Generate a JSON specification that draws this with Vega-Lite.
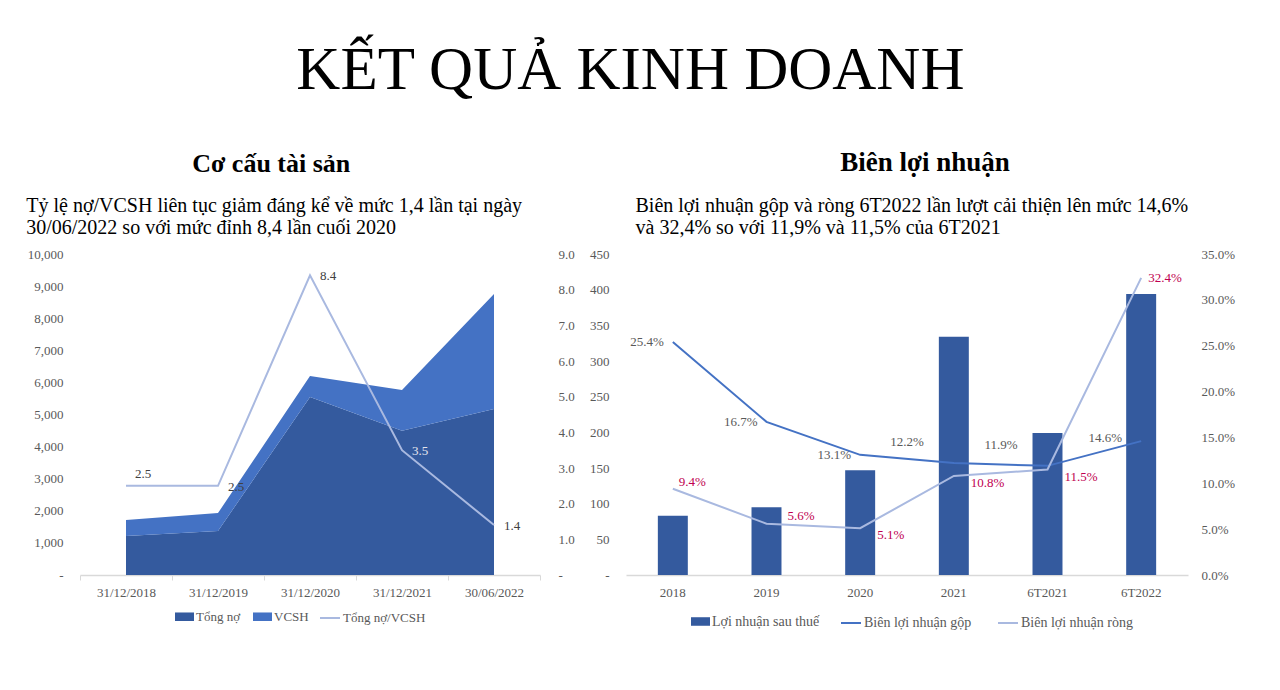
{
  "$schema": "https://vega.github.io/schema/vega-lite/v6.json",
  "background": "white",
  "padding": {"left": 26, "top": 40, "right": 10, "bottom": 10},
  "datasets": {
    "assets": [
      {"date": "31/12/2018", "series": "Tổng nợ", "value": 1215},
      {"date": "31/12/2018", "series": "VCSH", "value": 500},
      {"date": "31/12/2019", "series": "Tổng nợ", "value": 1370},
      {"date": "31/12/2019", "series": "VCSH", "value": 560},
      {"date": "31/12/2020", "series": "Tổng nợ", "value": 5545},
      {"date": "31/12/2020", "series": "VCSH", "value": 655},
      {"date": "31/12/2021", "series": "Tổng nợ", "value": 4490},
      {"date": "31/12/2021", "series": "VCSH", "value": 1275},
      {"date": "30/06/2022", "series": "Tổng nợ", "value": 5170},
      {"date": "30/06/2022", "series": "VCSH", "value": 3585}
    ],
    "ratio": [
      {"date": "31/12/2018", "series": "Tổng nợ/VCSH", "ratio": 2.5},
      {"date": "31/12/2019", "series": "Tổng nợ/VCSH", "ratio": 2.5},
      {"date": "31/12/2020", "series": "Tổng nợ/VCSH", "ratio": 8.4},
      {"date": "31/12/2021", "series": "Tổng nợ/VCSH", "ratio": 3.5},
      {"date": "30/06/2022", "series": "Tổng nợ/VCSH", "ratio": 1.4}
    ],
    "profit": [
      {"period": "2018", "series": "Lợi nhuận sau thuế", "profit": 83},
      {"period": "2019", "series": "Lợi nhuận sau thuế", "profit": 95},
      {"period": "2020", "series": "Lợi nhuận sau thuế", "profit": 147},
      {"period": "2021", "series": "Lợi nhuận sau thuế", "profit": 334},
      {"period": "6T2021", "series": "Lợi nhuận sau thuế", "profit": 199},
      {"period": "6T2022", "series": "Lợi nhuận sau thuế", "profit": 394}
    ],
    "margins": [
      {"period": "2018", "series": "Biên lợi nhuận gộp", "margin": 0.254},
      {"period": "2019", "series": "Biên lợi nhuận gộp", "margin": 0.167},
      {"period": "2020", "series": "Biên lợi nhuận gộp", "margin": 0.131},
      {"period": "2021", "series": "Biên lợi nhuận gộp", "margin": 0.122},
      {"period": "6T2021", "series": "Biên lợi nhuận gộp", "margin": 0.119},
      {"period": "6T2022", "series": "Biên lợi nhuận gộp", "margin": 0.146},
      {"period": "2018", "series": "Biên lợi nhuận ròng", "margin": 0.094},
      {"period": "2019", "series": "Biên lợi nhuận ròng", "margin": 0.056},
      {"period": "2020", "series": "Biên lợi nhuận ròng", "margin": 0.051},
      {"period": "2021", "series": "Biên lợi nhuận ròng", "margin": 0.108},
      {"period": "6T2021", "series": "Biên lợi nhuận ròng", "margin": 0.115},
      {"period": "6T2022", "series": "Biên lợi nhuận ròng", "margin": 0.324}
    ]
  },
  "title": {
    "text": "KẾT QUẢ KINH DOANH",
    "font": "Liberation Serif",
    "fontSize": 61,
    "fontWeight": "normal",
    "color": "#000000",
    "anchor": "middle",
    "offset": 47
  },
  "spacing": 14,
  "resolve": {"scale": {"fill": "independent", "stroke": "independent"}, "legend": {"fill": "independent", "stroke": "independent"}},
  "hconcat": [
    {
      "title": {"text": "Cơ cấu tài sản", "font": "Liberation Serif", "fontSize": 26, "fontWeight": "bold", "color": "#000000", "anchor": "middle", "dx": -29, "offset": 19},
      "vconcat": [
        {
          "title": {
            "text": ["Tỷ lệ nợ/VCSH liên tục giảm đáng kể về mức 1,4 lần tại ngày", "30/06/2022 so với mức đỉnh 8,4 lần cuối 2020"],
            "font": "Liberation Serif", "fontSize": 20, "fontWeight": "normal", "color": "#000000",
            "anchor": "start", "frame": "bounds", "lineHeight": 22, "offset": 10, "dx": -1
          },
          "width": 460,
          "height": 321,
          "encoding": {
            "x": {
              "field": "date", "type": "ordinal", "sort": null, "bandPosition": 0.5,
              "scale": {"type": "band", "domain": ["31/12/2018", "31/12/2019", "31/12/2020", "31/12/2021", "30/06/2022"], "paddingInner": 0, "paddingOuter": 0},
              "axis": {"title": null, "labelAngle": 0, "tickBand": "extent", "ticks": true, "tickSize": 5, "tickColor": "#D9D9D9", "domain": true, "domainColor": "#D9D9D9", "domainWidth": 1.5, "labelPadding": 6}
            }
          },
          "layer": [
            {
              "data": {"name": "assets"},
              "mark": {"type": "area"},
              "encoding": {
                "y": {"field": "value", "type": "quantitative", "stack": "zero",
                  "scale": {"domain": [0, 10000]},
                  "axis": {"title": null, "values": [0, 1000, 2000, 3000, 4000, 5000, 6000, 7000, 8000, 9000, 10000], "labelExpr": "datum.value == 0 ? '-' : format(datum.value, ',')", "labelPadding": 17}},
                "fill": {"field": "series", "type": "nominal",
                  "scale": {"domain": ["Tổng nợ", "VCSH"], "range": ["#345A9E", "#4472C4"]},
                  "legend": {"title": null, "symbolType": "M-1,-0.45h2v0.9h-2z", "symbolSize": 361, "symbolStrokeWidth": 0, "columnPadding": 12}},
                "order": {"field": "series", "type": "nominal", "sort": "ascending"}
              }
            },
            {
              "data": {"name": "ratio"},
              "encoding": {
                "y": {"field": "ratio", "type": "quantitative",
                  "scale": {"domain": [0, 9]},
                  "axis": {"title": null, "orient": "right", "values": [0, 1, 2, 3, 4, 5, 6, 7, 8, 9], "labelExpr": "datum.value == 0 ? '-' : format(datum.value, '.1f')", "labelPadding": 18}}
              },
              "layer": [
                {
                  "mark": {"type": "line", "strokeWidth": 2},
                  "encoding": {
                    "stroke": {"field": "series", "type": "nominal",
                      "scale": {"domain": ["Tổng nợ/VCSH"], "range": ["#A9B9E0"]},
                      "legend": {"title": null, "symbolType": "stroke", "symbolSize": 400, "symbolStrokeWidth": 2}}
                  }
                },
                {
                  "transform": [{"filter": {"field": "date", "equal": "31/12/2018"}}],
                  "mark": {"type": "text", "font": "Liberation Serif", "fontSize": 13, "color": "#404040", "align": "center", "baseline": "middle", "dx": 17, "dy": -12},
                  "encoding": {"text": {"field": "ratio", "format": ".1f"}}
                },
                {
                  "transform": [{"filter": {"field": "date", "oneOf": ["31/12/2019", "31/12/2020", "31/12/2021", "30/06/2022"]}}],
                  "mark": {"type": "text", "font": "Liberation Serif", "fontSize": 13, "align": "left", "baseline": "middle", "dx": 10, "dy": 1},
                  "encoding": {
                    "text": {"field": "ratio", "format": ".1f"},
                    "color": {"condition": {"test": "datum.date == '31/12/2021'", "value": "#E4E6EE"}, "value": "#404040"}
                  }
                }
              ]
            }
          ],
          "resolve": {"scale": {"y": "independent"}}
        }
      ]
    },
    {
      "title": {"text": "Biên lợi nhuận", "font": "Liberation Serif", "fontSize": 27, "fontWeight": "bold", "color": "#000000", "anchor": "middle", "dx": 13, "offset": 19},
      "vconcat": [
        {
          "title": {
            "text": ["Biên lợi nhuận gộp và ròng 6T2022 lần lượt cải thiện lên mức 14,6%", "và 32,4% so với 11,9% và 11,5% của 6T2021"],
            "font": "Liberation Serif", "fontSize": 20, "fontWeight": "normal", "color": "#000000",
            "anchor": "start", "frame": "bounds", "lineHeight": 22, "offset": 10, "dx": 46
          },
          "width": 562,
          "height": 321,
          "encoding": {
            "x": {
              "field": "period", "type": "ordinal", "sort": null, "bandPosition": 0.5,
              "scale": {"type": "band", "domain": ["2018", "2019", "2020", "2021", "6T2021", "6T2022"], "paddingInner": 0, "paddingOuter": 0},
              "axis": {"title": null, "labelAngle": 0, "ticks": false, "domain": true, "domainColor": "#D9D9D9", "domainWidth": 1.5, "labelPadding": 11}
            }
          },
          "layer": [
            {
              "data": {"name": "profit"},
              "mark": {"type": "bar", "width": {"band": 0.32}},
              "encoding": {
                "x": {"field": "period", "type": "ordinal", "sort": null, "bandPosition": 0},
                "y": {"field": "profit", "type": "quantitative",
                  "scale": {"domain": [0, 450]},
                  "axis": {"title": null, "values": [0, 50, 100, 150, 200, 250, 300, 350, 400, 450], "labelExpr": "datum.value == 0 ? '-' : format(datum.value, ',')", "labelPadding": 17}},
                "fill": {"field": "series", "type": "nominal",
                  "scale": {"domain": ["Lợi nhuận sau thuế"], "range": ["#345A9E"]},
                  "legend": {"title": null, "symbolType": "M-1,-0.45h2v0.9h-2z", "symbolSize": 361, "symbolStrokeWidth": 0, "labelFontSize": 14, "padding": 5}}
              }
            },
            {
              "data": {"name": "margins"},
              "encoding": {
                "y": {"field": "margin", "type": "quantitative",
                  "scale": {"domain": [0, 0.35]},
                  "axis": {"title": null, "orient": "right", "values": [0, 0.05, 0.1, 0.15, 0.2, 0.25, 0.3, 0.35], "format": ".1%", "labelPadding": 13}}
              },
              "layer": [
                {
                  "mark": {"type": "line", "strokeWidth": 2},
                  "encoding": {
                    "stroke": {"field": "series", "type": "nominal",
                      "scale": {"domain": ["Biên lợi nhuận gộp", "Biên lợi nhuận ròng"], "range": ["#4472C4", "#A9B9E0"]},
                      "legend": {"title": null, "symbolType": "stroke", "symbolSize": 400, "symbolStrokeWidth": 2, "labelFontSize": 14, "columnPadding": 22, "padding": 5}}
                  }
                },
                {
                  "transform": [{"filter": {"and": [{"field": "series", "equal": "Biên lợi nhuận gộp"}, {"field": "period", "oneOf": ["2018", "2019", "2020"]}]}}],
                  "mark": {"type": "text", "font": "Liberation Serif", "fontSize": 13, "color": "#595959", "align": "right", "baseline": "middle", "dx": -9, "dy": 0},
                  "encoding": {"text": {"field": "margin", "format": ".1%"}}
                },
                {
                  "transform": [{"filter": {"and": [{"field": "series", "equal": "Biên lợi nhuận gộp"}, {"field": "period", "oneOf": ["2021", "6T2021"]}]}}],
                  "mark": {"type": "text", "font": "Liberation Serif", "fontSize": 13, "color": "#595959", "align": "right", "baseline": "middle", "dx": -30, "dy": -21},
                  "encoding": {"text": {"field": "margin", "format": ".1%"}}
                },
                {
                  "transform": [{"filter": {"and": [{"field": "series", "equal": "Biên lợi nhuận gộp"}, {"field": "period", "equal": "6T2022"}]}}],
                  "mark": {"type": "text", "font": "Liberation Serif", "fontSize": 13, "color": "#595959", "align": "right", "baseline": "middle", "dx": -19, "dy": -3},
                  "encoding": {"text": {"field": "margin", "format": ".1%"}}
                },
                {
                  "transform": [{"filter": {"and": [{"field": "series", "equal": "Biên lợi nhuận ròng"}, {"field": "period", "equal": "2018"}]}}],
                  "mark": {"type": "text", "font": "Liberation Serif", "fontSize": 13, "color": "#C00050", "align": "left", "baseline": "middle", "dx": 6, "dy": -7},
                  "encoding": {"text": {"field": "margin", "format": ".1%"}}
                },
                {
                  "transform": [{"filter": {"and": [{"field": "series", "equal": "Biên lợi nhuận ròng"}, {"field": "period", "equal": "2019"}]}}],
                  "mark": {"type": "text", "font": "Liberation Serif", "fontSize": 13, "color": "#C00050", "align": "left", "baseline": "middle", "dx": 21, "dy": -8},
                  "encoding": {"text": {"field": "margin", "format": ".1%"}}
                },
                {
                  "transform": [{"filter": {"and": [{"field": "series", "equal": "Biên lợi nhuận ròng"}, {"field": "period", "oneOf": ["2020", "2021", "6T2021"]}]}}],
                  "mark": {"type": "text", "font": "Liberation Serif", "fontSize": 13, "color": "#C00050", "align": "left", "baseline": "middle", "dx": 17, "dy": 7},
                  "encoding": {"text": {"field": "margin", "format": ".1%"}}
                },
                {
                  "transform": [{"filter": {"and": [{"field": "series", "equal": "Biên lợi nhuận ròng"}, {"field": "period", "equal": "6T2022"}]}}],
                  "mark": {"type": "text", "font": "Liberation Serif", "fontSize": 13, "color": "#C00050", "align": "left", "baseline": "middle", "dx": 7, "dy": 0},
                  "encoding": {"text": {"field": "margin", "format": ".1%"}}
                }
              ]
            }
          ],
          "resolve": {"scale": {"y": "independent"}}
        }
      ]
    }
  ],
  "config": {
    "view": {"stroke": null},
    "font": "Liberation Serif",
    "axis": {"labelFont": "Liberation Serif", "labelFontSize": 13, "labelColor": "#595959", "grid": false, "ticks": false, "domain": false},
    "legend": {
      "orient": "bottom", "direction": "horizontal",
      "labelFont": "Liberation Serif", "labelFontSize": 13, "labelColor": "#595959",
      "columnPadding": 12, "labelOffset": 2, "offset": 8,
      "layout": {"bottom": {"anchor": "middle", "direction": "horizontal", "margin": 10}}
    }
  }
}
